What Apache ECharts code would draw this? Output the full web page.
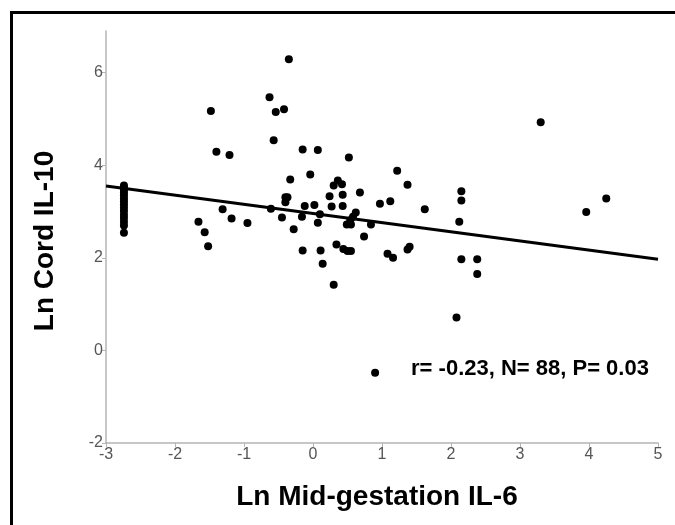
<!DOCTYPE html>
<html>
<head>
<meta charset="utf-8">
<script src="https://cdn.jsdelivr.net/npm/echarts@6/dist/echarts.min.js"></script>
<style>html,body{margin:0;padding:0;background:#fff;overflow:hidden;}#c{width:675px;height:525px;}</style>
</head>
<body>
<div id="c"></div>
<script>
// Column of points at the lowest IL-6 value
const colX = -2.74;
const colY = [3.56, 3.52, 3.47, 3.41, 3.35, 3.28, 3.22, 3.15, 3.08, 3.01, 2.93, 2.86, 2.78, 2.70, 2.54];
// Remaining points
const xVals = [-1.66,-1.57,-1.52,-1.48,-1.40,-1.31,-1.21,-1.18,-0.95,-0.63,-0.61,-0.57,-0.54,-0.45,-0.42,-0.40,-0.37,-0.40,-0.35,-0.33,-0.28,-0.16,-0.15,-0.15,-0.12,-0.04,0.02,0.07,0.07,0.10,0.11,0.14,0.24,0.27,0.30,0.30,0.34,0.36,0.42,0.43,0.43,0.44,0.49,0.50,0.52,0.54,0.55,0.55,0.58,0.62,0.68,0.74,0.84,0.90,0.97,1.08,1.12,1.16,1.22,1.37,1.37,1.40,1.62,2.08,2.12,2.15,2.15,2.15,2.38,2.38,3.30,3.96,4.25];
const yVals = [2.78,2.55,2.25,5.17,4.29,3.05,4.22,2.85,2.75,5.47,3.06,4.54,5.15,2.87,5.21,3.31,3.31,3.20,6.29,3.69,2.62,2.89,4.34,2.16,3.12,3.80,3.14,2.76,4.33,2.94,2.16,1.87,3.33,3.11,3.56,1.42,2.29,3.67,3.59,3.36,3.12,2.19,2.72,2.15,4.17,2.81,2.15,2.72,2.89,2.98,3.41,2.46,2.72,-0.48,3.17,2.09,3.22,2.00,3.88,3.58,2.18,2.24,3.05,0.71,2.78,3.44,3.24,1.97,1.97,1.65,4.93,2.99,3.28];
// Fitted regression line end points
const lineX = [-3, 5];
const lineY = [3.55, 1.97];
const xTicks = [-3,-2,-1,0,1,2,3,4,5];
const yTicks = [-2,0,2,4,6];
const xTitle = 'Ln Mid-gestation IL-6';
const yTitle = 'Ln Cord IL-10';
const statText = 'r= -0.23, N= 88, P= 0.03';

const pts = colY.map(y => [colX, y]).concat(xVals.map((x, i) => [x, yVals[i]]));
const linePts = lineX.map((x, i) => [x, lineY[i]]);

const chart = echarts.init(document.getElementById('c'), null, {renderer: 'canvas'});
const axisCol = '#b4b4b4';
const labFont = '"Liberation Sans Narrow", "Liberation Sans", Arial, sans-serif';
const boldFont = '"Liberation Sans", Arial, sans-serif';
chart.setOption({
  animation: false,
  backgroundColor: '#fff',
  grid: {left: 106, right: 17, top: 31, bottom: 82, containLabel: false},
  xAxis: {
    type: 'value', min: -3, max: 5, interval: 1,
    axisLine: {show: true, onZero: false, lineStyle: {color: axisCol, width: 1.5}},
    axisTick: {show: true, length: 4, lineStyle: {color: axisCol}, customValues: xTicks},
    axisLabel: {color: '#555', fontSize: 16, fontFamily: labFont, margin: 4, customValues: xTicks},
    splitLine: {show: false}
  },
  yAxis: {
    type: 'value', min: -2, max: 6.9, interval: 2,
    axisLine: {show: true, onZero: false, lineStyle: {color: axisCol, width: 1.5}},
    axisTick: {show: true, length: 4, lineStyle: {color: axisCol}, customValues: yTicks},
    axisLabel: {color: '#555', fontSize: 16, fontFamily: labFont, margin: 3, customValues: yTicks},
    splitLine: {show: false}
  },
  series: [
    {type: 'scatter', data: pts, symbol: 'circle', symbolSize: 8, itemStyle: {color: '#000', opacity: 1}, z: 3},
    {type: 'line', data: linePts, symbol: 'none', lineStyle: {color: '#000', width: 3}, z: 2}
  ],
  graphic: [
    {type: 'polyline', shape: {points: [[11.5, 640], [11.5, 12.5], [720, 12.5]]}, style: {fill: 'none', stroke: '#000', lineWidth: 3}},
    {type: 'text', x: 377, y: 497, style: {text: xTitle, fontSize: 28, fontWeight: 'bold', fontFamily: boldFont, fill: '#000', align: 'center', verticalAlign: 'middle'}},
    {type: 'text', x: 45, y: 241, rotation: Math.PI / 2, style: {text: yTitle, fontSize: 28, fontWeight: 'bold', fontFamily: boldFont, fill: '#000', align: 'center', verticalAlign: 'middle'}},
    {type: 'text', x: 530, y: 369, style: {text: statText, fontSize: 22, fontWeight: 'bold', fontFamily: boldFont, fill: '#000', align: 'center', verticalAlign: 'middle'}}
  ]
});
</script>
</body>
</html>
